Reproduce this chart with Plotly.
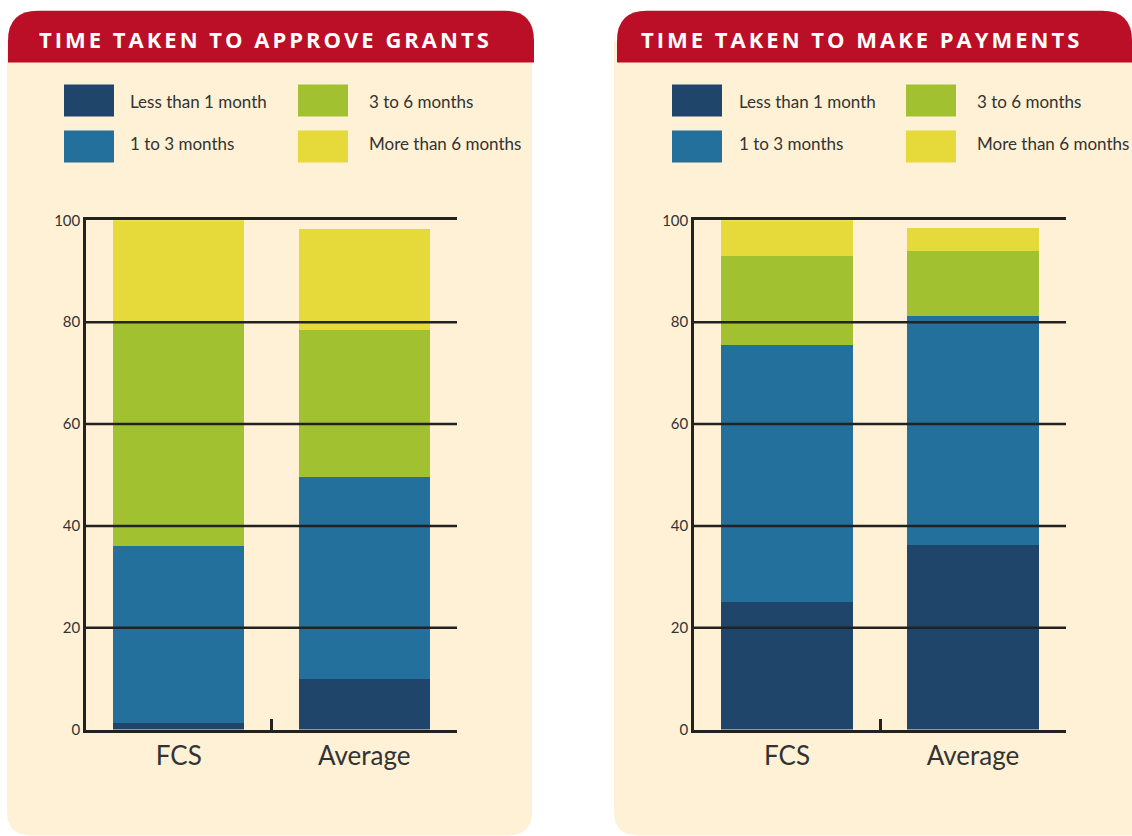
import plotly.graph_objects as go

# ---------------- data ----------------
categories = ["FCS", "Average"]
series_names = ["Less than 1 month", "1 to 3 months", "3 to 6 months", "More than 6 months"]
series_colors = ["#20456A", "#23709C", "#A2C130", "#E6DA3A"]

grants_less1 = [1.2, 10.0]
grants_1to3 = [34.8, 39.6]
grants_3to6 = [44.0, 28.8]
grants_more6 = [20.0, 20.0]

payments_less1 = [25.0, 36.2]
payments_1to3 = [50.6, 45.0]
payments_3to6 = [17.4, 12.7]
payments_more6 = [7.0, 4.7]

y_ticks = [0, 20, 40, 60, 80, 100]
grid_ticks = [20, 40, 60, 80]
titles = ["TIME TAKEN TO APPROVE GRANTS", "TIME TAKEN TO MAKE PAYMENTS"]

# ---------------- style ----------------
W, H = 1132, 836
CREAM = "#FEF1D6"
RED = "#BA0F26"
TEXT = "#333333"
LINE = "#222222"
FONT = "Lato, 'Open Sans', sans-serif"

# vertical calibration of the photographed page
Y_OFF, Y_SCALE = 9.3, 0.98


def px(x):
    return x / W


def py(y):
    page_y = (y - Y_OFF) / Y_SCALE
    return 1 - page_y / H


fig = go.Figure()

grants = [grants_less1, grants_1to3, grants_3to6, grants_more6]
payments = [payments_less1, payments_1to3, payments_3to6, payments_more6]

for name, color, vals in zip(series_names, series_colors, grants):
    fig.add_trace(go.Bar(x=categories, y=vals, name=name, marker=dict(color=color, line=dict(width=0)),
                         xaxis="x", yaxis="y", showlegend=False))
for name, color, vals in zip(series_names, series_colors, payments):
    fig.add_trace(go.Bar(x=categories, y=vals, name=name, marker=dict(color=color, line=dict(width=0)),
                         xaxis="x2", yaxis="y3", showlegend=False))

panels = [
    dict(px0=7, px1=532, hx0=8, hx1=534, title_cx=265, leg_x=[64, 298], text_x=[128, 367]),
    dict(px0=614, px1=1160, hx0=617, hx1=1132, title_cx=861, leg_x=[672, 906], text_x=[737, 975]),
]
ytop, ybot = 220, 730

shapes = []
annotations = []


def rounded_path(x0, y0, x1, y1, rtl, rtr, rbr, rbl):
    p = f"M {px(x0 + rtl)},{py(y0)} L {px(x1 - rtr)},{py(y0)} "
    if rtr:
        p += f"Q {px(x1)},{py(y0)} {px(x1)},{py(y0 + rtr)} "
    p += f"L {px(x1)},{py(y1 - rbr)} "
    if rbr:
        p += f"Q {px(x1)},{py(y1)} {px(x1 - rbr)},{py(y1)} "
    p += f"L {px(x0 + rbl)},{py(y1)} "
    if rbl:
        p += f"Q {px(x0)},{py(y1)} {px(x0)},{py(y1 - rbl)} "
    p += f"L {px(x0)},{py(y0 + rtl)} "
    if rtl:
        p += f"Q {px(x0)},{py(y0)} {px(x0 + rtl)},{py(y0)} "
    p += "Z"
    return p


for i, pn in enumerate(panels):
    shapes.append(dict(type="path", xref="paper", yref="paper", layer="below",
                       path=rounded_path(pn["px0"], 40, pn["px1"], 836, 0, 0, 24, 24),
                       fillcolor=CREAM, line=dict(width=0)))
    shapes.append(dict(type="path", xref="paper", yref="paper", layer="below",
                       path=rounded_path(pn["hx0"], 10, pn["hx1"], 62, 30, 30, 0, 0),
                       fillcolor=RED, line=dict(width=0)))
    annotations.append(dict(xref="paper", yref="paper", x=px(pn["title_cx"]), y=py(38),
                            text=f"<span style='letter-spacing:3px'>{titles[i]}</span>",
                            showarrow=False, xanchor="center", yanchor="middle",
                            font=dict(family="'Open Sans', sans-serif", size=22, color="white", weight="bold")))
    rows = [(84, 116), (130, 162)]
    text_y = [101, 143]
    for k, (name, color) in enumerate(zip(series_names, series_colors)):
        col = k // 2
        row = k % 2
        lx = pn["leg_x"][col]
        y0, y1 = rows[row]
        shapes.append(dict(type="rect", xref="paper", yref="paper", layer="above",
                           x0=px(lx), x1=px(lx + 50), y0=py(y1), y1=py(y0),
                           fillcolor=color, line=dict(width=0)))
        annotations.append(dict(xref="paper", yref="paper", x=px(pn["text_x"][col]), y=py(text_y[row]),
                                text=name, showarrow=False, xanchor="left", yanchor="middle",
                                font=dict(family=FONT, size=17, color=TEXT)))
    xref = "x domain" if i == 0 else "x2 domain"
    yref = "y" if i == 0 else "y3"
    for t in grid_ticks:
        shapes.append(dict(type="line", xref=xref, yref=yref, x0=0, x1=1, y0=t, y1=t,
                           layer="above", line=dict(color=LINE, width=2.5)))

axis_common = dict(range=[0, 100], tickvals=y_ticks, showgrid=False, zeroline=False,
                   showline=True, linecolor=LINE, linewidth=2.5, ticks="",
                   tickfont=dict(family=FONT, size=15, color=TEXT), fixedrange=True)
x_common = dict(type="category", range=[-0.5, 1.5], showgrid=False, zeroline=False,
                showline=True, mirror=True, linecolor=LINE, linewidth=2.5, ticks="inside", ticklen=11,
                tickwidth=2.5, tickcolor=LINE, tickson="boundaries", layer="above traces",
                tickfont=dict(family=FONT, size=26, color=TEXT), ticklabelstandoff=1, fixedrange=True)

fig.update_layout(
    width=W, height=H,
    margin=dict(l=0, r=0, t=0, b=0),
    paper_bgcolor="white", plot_bgcolor="rgba(0,0,0,0)",
    barmode="stack", bargap=0.294,
    showlegend=False,
    xaxis=dict(domain=[px(86), px(457)], anchor="y", **x_common),
    yaxis=dict(domain=[py(ybot), py(ytop)], anchor="x", side="left", **axis_common),
    yaxis2=dict(overlaying="y", anchor="x", side="right", **axis_common),
    xaxis2=dict(domain=[px(694), px(1066)], anchor="y3", **x_common),
    yaxis3=dict(domain=[py(ybot), py(ytop)], anchor="x2", side="left", **axis_common),
    yaxis4=dict(overlaying="y3", anchor="x2", side="right", **axis_common),
    shapes=shapes,
    annotations=annotations,
)

fig.write_html("out.html", config={"displayModeBar": False},
               post_script="document.body.style.margin='0';document.body.style.overflow='hidden';")
